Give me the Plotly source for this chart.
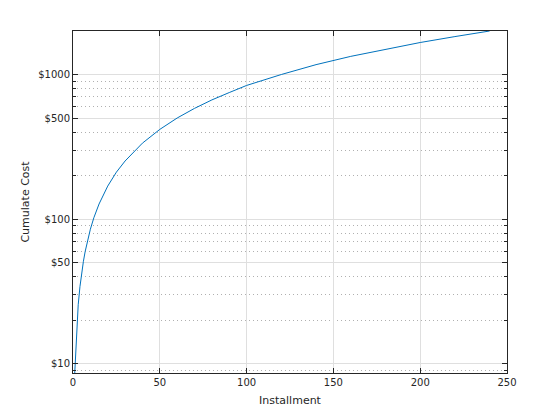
import plotly.graph_objects as go
import math

# Data
installment = [1, 2, 3, 4, 5, 6, 7, 8, 10, 12, 15, 20, 25, 30, 40, 50, 60, 70, 80,
               90, 100, 120, 140, 160, 180, 200, 220, 240]
cumulative_cost = [8.6, 17, 25.5, 34, 42.5, 51, 59.5, 68, 85, 102, 127, 169, 211, 252,
                   335, 417, 500, 583, 667, 750, 840, 1000, 1170, 1335, 1500, 1665,
                   1830, 2000]

y_tick_vals = [10, 50, 100, 500, 1000]
y_tick_text = ["$10", "$50", "$100", "$500", "$1000"]
y_minor_vals = [9, 20, 30, 40, 60, 70, 80, 90, 200, 300, 400, 600, 700, 800, 900, 2000]
x_tick_vals = [0, 50, 100, 150, 200, 250]

ink = "#262626"
font = dict(family="DejaVu Sans", size=10, color=ink)

fig = go.Figure()
fig.add_trace(go.Scatter(x=installment, y=cumulative_cost, mode="lines",
                         line=dict(color="#0072BD", width=1), showlegend=False))

fig.update_layout(
    width=560, height=420,
    margin=dict(l=65, r=61, t=23, b=55),
    paper_bgcolor="white", plot_bgcolor="white",
    font=font,
)
fig.update_xaxes(
    range=[0, 250], tickvals=x_tick_vals, ticks="inside", ticklen=5, tickwidth=1,
    tickcolor=ink, showline=True, linecolor=ink, linewidth=1, mirror="ticks",
    showgrid=True, gridcolor="#dfdfdf", gridwidth=1, zeroline=False,
    title=dict(text="Installment", font=dict(size=11, color=ink), standoff=9),
    tickfont=dict(size=10, color=ink),
)
fig.update_yaxes(
    type="log", range=[math.log10(8.6), math.log10(2000)],
    tickvals=y_tick_vals, ticktext=y_tick_text, ticks="inside", ticklen=5,
    tickwidth=1, tickcolor=ink, showline=True, linecolor=ink, linewidth=1,
    mirror="ticks", showgrid=True, gridcolor="#dfdfdf", gridwidth=1, zeroline=False,
    minor=dict(tickmode="array", tickvals=y_minor_vals, ticks="inside", ticklen=3,
               tickcolor=ink, showgrid=True, gridcolor="#b0b0b0", griddash="1px,3px",
               gridwidth=1),
    title=dict(text="Cumulate Cost", font=dict(size=11, color=ink), standoff=6),
    tickfont=dict(size=10, color=ink),
)

fig.write_html("out.html")
